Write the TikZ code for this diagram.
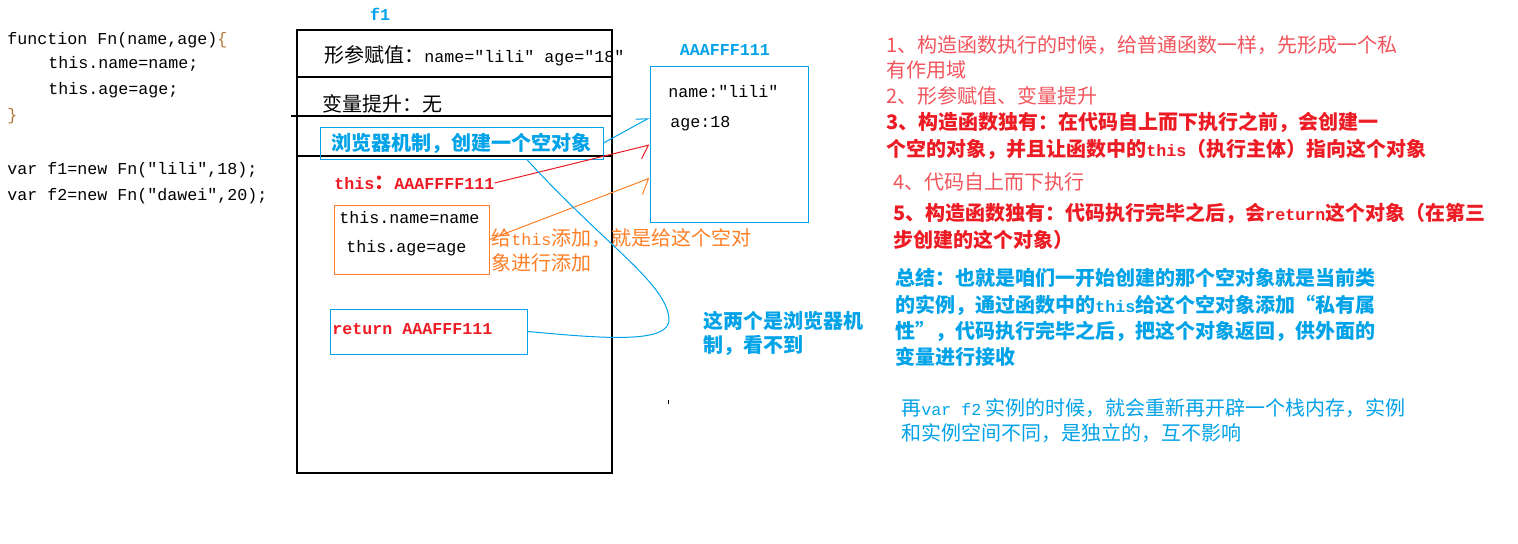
\documentclass[tikz,border=0pt]{standalone}
\usepackage{fontspec}
\setmainfont{Noto Sans CJK SC}
\newfontfamily\mono{Liberation Mono}
\usetikzlibrary{arrows.meta, positioning, calc}
\definecolor{azul}{HTML}{00A2E8}
\definecolor{rojo}{HTML}{ED1C24}
\definecolor{rosa}{HTML}{F2545B}
\definecolor{naranja}{HTML}{FF7F27}
\definecolor{marron}{HTML}{B4783C}
\newcommand{\dm}[1]{{\fontsize{12.5}{15}\selectfont\mono #1}}
\tikzset{
  marco/.style={rectangle, draw=black, line width=0.9pt, inner sep=0pt},
  cajaazul/.style={rectangle, draw=azul, line width=0.75pt, inner sep=0pt},
  cajanaranja/.style={rectangle, draw=naranja, line width=0.75pt, inner sep=0pt},
  texto/.style={anchor=west, inner sep=0pt, font=\fontsize{15}{18}\selectfont},
  textob/.style={anchor=west, inner sep=0pt, font=\fontsize{15}{18}\selectfont\bfseries},
  codigo/.style={anchor=west, inner sep=0pt, font=\fontsize{12.5}{15}\selectfont\mono},
  divisor/.style={draw=black, line width=0.9pt},
  flechaazul/.style={draw=azul, line width=0.75pt, -{Straight Barb[left, length=8pt, width=8pt]}},
  flecharoja/.style={draw=rojo, line width=0.75pt, -{Straight Barb[right, length=7.4pt, width=17.4pt]}},
  flechanaranja/.style={draw=naranja, line width=0.75pt, -{Straight Barb[right, length=8.5pt, width=19pt]}},
  curvaazul/.style={draw=azul, line width=0.75pt}
}

\begin{document}
\begin{tikzpicture}[x=0.75pt, y=-0.75pt]
  \path [fill=white, use as bounding box] (0,0) rectangle (1518,543);
  \node (c1) [codigo] at (7,40) {function Fn(name,age){\color{marron}\{}};
  \node (c2) [codigo] at (48,64) {this.name=name;};
  \node (c3) [codigo] at (48,90) {this.age=age;};
  \node (c4) [codigo, text=marron] at (7,116) {\}};
  \node (c5) [codigo] at (7,170) {var f1=new Fn(″lili″,18);};
  \node (c6) [codigo] at (7,196) {var f2=new Fn(″dawei″,20);};

  \node (pila) [marco, minimum width=236.25pt, minimum height=332.25pt] at (454.5,251.5) {};
  \node (f1) [codigo, anchor=center, text=azul] at (380,14) {\bfseries f1};
  \draw [divisor] (pila.west |- 0,77) -- (pila.east |- 0,77);
  \draw [divisor] (291,116) -- (pila.east |- 0,116);
  \draw [divisor] (pila.west |- 0,156) -- (pila.east |- 0,156);
  \node (param) [texto] at (324,56) {形参赋值：\dm{name=″lili″ age=″18″}};
  \node (tisheng) [texto] at (322,104) {变量提升：无};
  \node (jizhi) [cajaazul, minimum width=212.25pt, minimum height=24pt, text=azul,
                 font=\fontsize{15}{18}\selectfont\bfseries] at (461.5,143) {浏览器机制，创建一个空对象};
  \node (thisdir) [textob, text=rojo] at (334,183) {\dm{this}：\dm{AAAFFFF111}};
  \node (asig) [cajanaranja, minimum width=116.25pt, minimum height=51.75pt] at (411.5,239.5) {};
  \node (asig1) [codigo] at (339,218) {this.name=name};
  \node (asig2) [codigo] at (346,248) {this.age=age};
  \node (notan1) [texto, text=naranja] at (491,238) {给\dm{this}添加，就是给这个空对};
  \node (notan2) [texto, text=naranja] at (491,263) {象进行添加};
  \node (ret) [cajaazul, minimum width=147.75pt, minimum height=33.75pt] at (428.5,331.5) {};
  \node (rettxt) [codigo, text=rojo] at (332,329) {\bfseries return AAAFFF111};

  \node (obj) [cajaazul, minimum width=118.5pt, minimum height=117pt] at (729,144) {};
  \node (objtit) [codigo, anchor=center, text=azul] at (725,50) {\bfseries AAAFFF111};
  \node (obj1) [codigo] at (668,92) {name:″lili″};
  \node (obj2) [codigo] at (670,124) {age:18};
  \node (notaz1) [textob, text=azul] at (703,321) {这两个是浏览器机};
  \node (notaz2) [textob, text=azul] at (703,346) {制，看不到};

  \node (r1) [texto, text=rosa] at (886,45) {1、构造函数执行的时候，给普通函数一样，先形成一个私};
  \node (r2) [texto, text=rosa] at (886,70) {有作用域};
  \node (r3) [texto, text=rosa] at (886,96) {2、形参赋值、变量提升};
  \node (r4) [textob, text=rojo] at (886,122) {3、构造函数独有：在代码自上而下执行之前，会创建一};
  \node (r5) [textob, text=rojo] at (886,149) {个空的对象，并且让函数中的\dm{this}（执行主体）指向这个对象};
  \node (r6) [texto, text=rosa] at (893,182) {4、代码自上而下执行};
  \node (r7) [textob, text=rojo] at (893,213) {5、构造函数独有：代码执行完毕之后，会\dm{return}这个对象（在第三};
  \node (r8) [textob, text=rojo] at (893,240) {步创建的这个对象）};
  \node (z1) [textob, text=azul] at (895,278) {总结：也就是咱们一开始创建的那个空对象就是当前类};
  \node (z2) [textob, text=azul] at (895,305) {的实例，通过函数中的\dm{this}给这个空对象添加“私有属};
  \node (z3) [textob, text=azul] at (895,331) {性”，代码执行完毕之后，把这个对象返回，供外面的};
  \node (z4) [textob, text=azul] at (895,357) {变量进行接收};
  \node (z5) [texto, text=azul] at (901,408) {再\dm{var f2} 实例的时候，就会重新再开辟一个栈内存，实例};
  \node (z6) [texto, text=azul] at (901,433) {和实例空间不同，是独立的，互不影响};

  \draw [flechaazul] (jizhi.east) -- ($(obj.north west)!0.333!(obj.south west)$);
  \draw [flecharoja] (thisdir.east) -- ($(obj.north west)!0.506!(obj.south west)$);
  \draw [flechanaranja] (asig.east) -- ($(obj.north west)!0.718!(obj.south west)$);
  \coordinate (qi) at ($(jizhi.south west)!0.73!(jizhi.south east)$);
  \draw [curvaazul] (qi) .. controls (605,245) and (665,282) .. (669,318)
                         .. controls (672,345) and (600,338) .. (ret.east);
  \draw (668,400) -- (668,404);
\end{tikzpicture}
\end{document}
